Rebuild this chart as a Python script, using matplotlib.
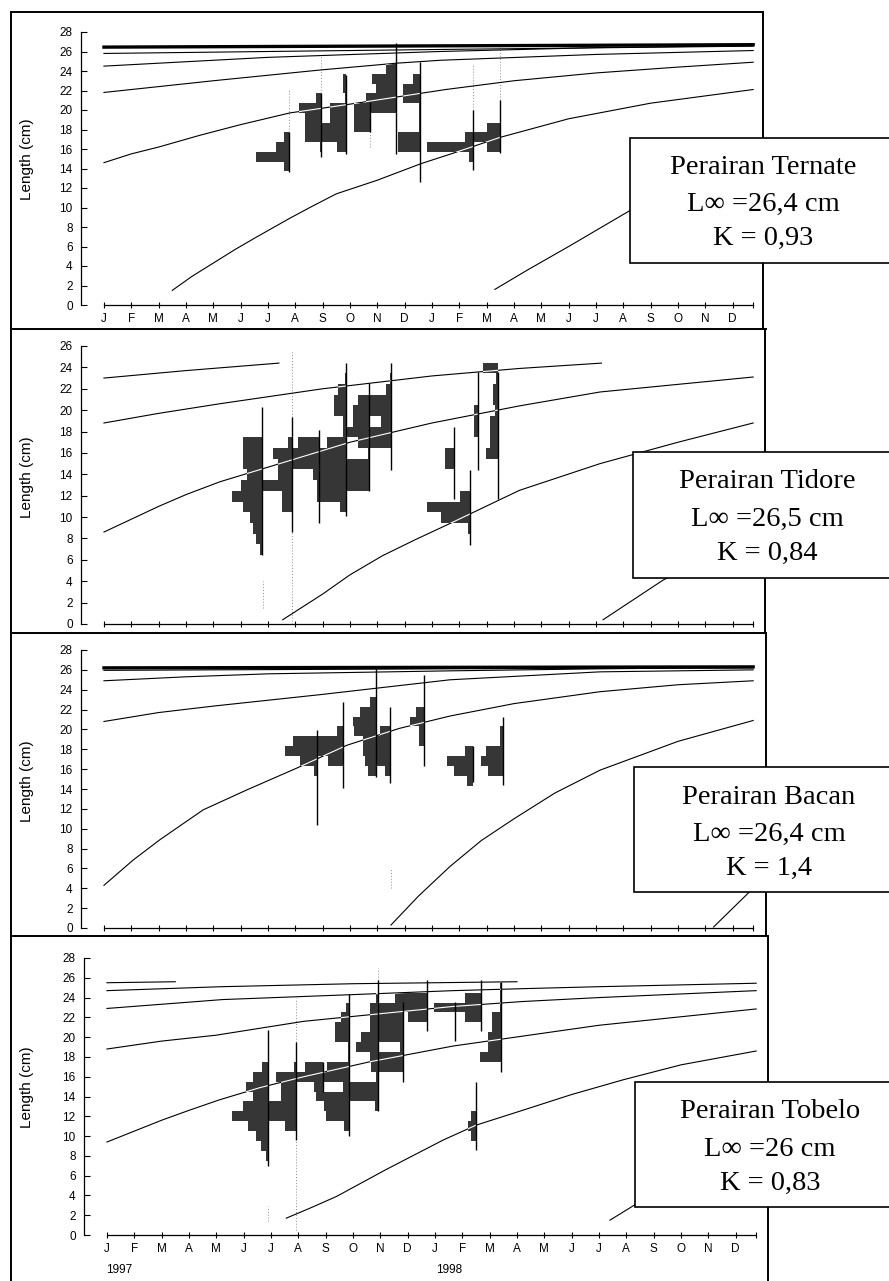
import matplotlib
matplotlib.use('Agg')
import matplotlib.pyplot as plt
from matplotlib.lines import Line2D
from matplotlib.patches import Rectangle, PathPatch
from matplotlib.path import Path

plt.rcParams['font.family'] = ['Liberation Sans', 'DejaVu Sans']

W, H = 889, 1281
MONTHS = ['J', 'F', 'M', 'A', 'M', 'J', 'J', 'A', 'S', 'O', 'N', 'D']
YEARS = ['1997', '1998']
FILL = '#363636'

# x = months since 1 Jan 1997, y = length (cm)
# samples: (date, lowest class, bar widths from bottom up, line low, line high)

# --- Perairan Ternate
TER_TOP = [(0, 26.45), (23.75, 26.7)]
TER_CURVES = [
    [(0, 25.8), (6, 26.0), (12, 26.2), (23.75, 26.55)],
    [(0, 24.5), (6, 25.4), (12.3, 26.0), (18, 26.4), (23.75, 26.6)],
    [(0, 21.8), (4, 23.0), (7.9, 24.1), (10.7, 24.8), (12.3, 25.1), (18, 25.7), (23.75, 26.1)],
    [(0, 14.6), (1, 15.5), (2, 16.2), (3.5, 17.4), (5, 18.5), (6.8, 19.7), (9, 20.6), (12.5, 22.1),
     (15, 23.0), (18, 23.8), (21, 24.4), (23.75, 24.9)],
    [(2.5, 1.5), (3.2, 2.9), (4.0, 4.3), (4.8, 5.7), (5.6, 7.0), (6.8, 8.9), (7.6, 10.1), (8.5, 11.4),
     (10.0, 12.8), (11.6, 14.5), (12.7, 15.5), (14.5, 17.2), (17, 19.1), (20, 20.7), (23.75, 22.1)],
    [(14.3, 1.6), (15.5, 3.6), (17, 6.0), (19.25, 9.7), (23.75, 14.5)],
]
TER_SAMPLES = [
    (6.78, 13.7, [0.2, 1.2, 0.5, 0.18], 13.6, 17.7),
    (7.94, 15.7, [0.05, 0.6, 0.6, 0.6, 0.79, 0.2], 15.2, 21.7),
    (8.85, 15.7, [0.32, 0.91, 0.91, 0.59, 0.59, 0.05, 0.12, 0.12], 15.5, 23.6),
    (9.73, 17.7, [0.6, 0.6, 0.6], 17.7, 20.8),
    (10.7, 19.7, [1.5, 1.1, 0.75, 0.91, 0.39], 15.5, 26.9),
    (11.56, 15.7, [0.79, 0.79, 0.05, 0.05, 0.05, 0.61, 0.61, 0.27], 12.6, 24.9),
    (13.5, 14.7, [0.16, 1.68], 13.85, 20.0),
    (14.5, 15.7, [0.49, 1.28, 0.49], 15.6, 21.0),
]
TER_DOTS = [(6.78, 17.7, 22.2), (7.94, 21.7, 25.5), (9.73, 16.2, 21.4), (13.5, 20.0, 24.7), (14.5, 21.0, 26.5)]

# --- Perairan Tidore
TID_TOP = None
TID_CURVES = [
    [(0, 23.0), (3, 23.7), (6.4, 24.4)],
    [(0, 18.8), (2, 19.7), (4.24, 20.6), (8, 22.0), (12, 23.2), (15.2, 23.9), (18.2, 24.4)],
    [(0, 8.6), (1, 9.8), (2, 11.0), (3, 12.1), (4.24, 13.3), (6.3, 14.9), (9, 17.0), (12, 18.8),
     (15.2, 20.4), (18.15, 21.7), (23.75, 23.1)],
    [(6.54, 0.4), (8, 2.8), (9, 4.6), (10.2, 6.4), (11.4, 7.9), (12.66, 9.4), (15.2, 12.5),
     (18.15, 15.0), (21, 17.0), (23.75, 18.8)],
    [(18.26, 0.4), (20.45, 4.1), (23.75, 8.4)],
]
TID_SAMPLES = [
    (5.77, 6.45, [0.05, 0.2, 0.3, 0.43, 0.67, 1.1, 0.77, 0.55, 0.7, 0.7, 0.7], 6.45, 20.3),
    (6.87, 10.45, [0.37, 0.37, 1.1, 0.49, 0.49, 0.67, 0.12], 8.6, 19.4),
    (7.88, 13.45, [0.1, 1.0, 1.0, 0.77], 9.4, 18.1),
    (8.85, 10.45, [0.2, 1.07, 1.07, 1.22, 0.95, 0.95, 0.7, 0.05, 0.1, 0.43, 0.43, 0.3, 0.05], 10.1, 24.4),
    (9.7, 12.45, [0.9, 0.9, 0.9, 0.05, 0.4, 0.95, 0.58, 0.58, 0.4], 12.4, 22.5),
    (10.5, 16.45, [1.22, 1.22, 0.37, 1.22, 1.22, 0.2, 0.05], 14.4, 24.4),
    (12.8, 14.45, [0.34, 0.34], 11.7, 18.4),
    (13.4, 8.45, [0.1, 1.06, 1.6, 0.39], 7.4, 14.4),
    (13.7, 17.45, [0.15, 0.15, 0.15], 14.4, 23.6),
    (14.4, 15.45, [0.43, 0.28, 0.28, 0.28, 0.1, 0.18, 0.18, 0.05, 0.55], 11.7, 23.6),
]
TID_DOTS = [(6.87, 19.4, 25.5), (6.87, 0.0, 8.6), (5.8, 1.5, 4.0)]

# --- Perairan Bacan
BAC_TOP = [(0, 26.2), (23.75, 26.3)]
BAC_CURVES = [
    [(0, 25.95), (12, 26.1), (23.75, 26.2)],
    [(0, 24.9), (3, 25.3), (6, 25.6), (12.66, 25.9), (18, 26.1), (23.75, 26.25)],
    [(0, 20.8), (2, 21.7), (4, 22.35), (7.9, 23.5), (12.66, 25.0), (18.15, 25.8), (23.75, 26.0)],
    [(0, 4.3), (1.07, 6.85), (2.05, 8.9), (3.63, 11.9), (5.22, 13.9), (7.05, 16.1), (8.88, 18.4),
     (10.8, 20.1), (12.66, 21.35), (15, 22.6), (18.15, 23.8), (21, 24.5), (23.75, 24.9)],
    [(10.5, 0.3), (11.5, 3.2), (12.66, 6.2), (13.8, 8.8), (15, 11.0), (16.5, 13.6), (18.15, 15.9),
     (21, 18.8), (23.75, 20.9)],
    [(22.3, 0.1), (23.75, 4.0)],
]
BAC_SAMPLES = [
    (7.78, 15.3, [0.1, 0.61, 1.16, 0.85], 10.4, 19.9),
    (8.76, 16.3, [0.55, 0.98, 0.98, 0.24], 14.1, 22.8),
    (9.95, 15.3, [0.3, 0.34, 0.34, 0.34, 0.8, 0.83, 0.59, 0.22], 15.2, 26.3),
    (10.46, 15.3, [0.18, 0.9, 0.98, 0.98, 0.37], 14.6, 22.3),
    (11.7, 18.3, [0.17, 0.17, 0.51, 0.27], 16.3, 25.5),
    (13.49, 14.3, [0.22, 0.7, 0.95, 0.28], 14.7, 18.3),
    (14.6, 15.3, [0.55, 0.79, 0.63, 0.12, 0.12], 14.4, 21.3),
]
BAC_DOTS = [(10.5, 4.0, 6.0)]

# --- Perairan Tobelo
TOB_TOP = None
TOB_CURVES = [
    [(0, 25.5), (2.5, 25.6)],
    [(0, 24.7), (4.2, 25.1), (9, 25.4), (15, 25.6)],
    [(0, 22.9), (4.24, 23.8), (9, 24.3), (12.66, 24.7), (15.2, 24.9), (18, 25.1), (23.75, 25.45)],
    [(0, 18.8), (2, 19.6), (4, 20.2), (7.2, 21.6), (12.66, 23.1), (15.2, 23.6), (18, 24.0), (23.75, 24.7)],
    [(0, 9.4), (1, 10.5), (2, 11.6), (3, 12.6), (4.1, 13.65), (5.6, 14.9), (7.2, 16.0), (9.6, 17.5),
     (12.66, 19.1), (15.2, 20.1), (18, 21.2), (23.75, 22.85)],
    [(6.56, 1.7), (7.5, 2.8), (8.4, 3.9), (10.2, 6.6), (12.3, 9.6), (13.5, 11.1), (15.2, 12.6),
     (17, 14.2), (18.9, 15.7), (21, 17.2), (23.75, 18.6)],
    [(18.4, 1.5), (19.4, 3.2), (21, 5.8)],
]
TOB_SAMPLES = [
    (5.89, 7.5, [0.09, 0.24, 0.45, 0.73, 1.3, 0.9, 0.55, 0.79, 0.55, 0.21], 7.0, 20.7),
    (6.93, 10.5, [0.43, 1.04, 1.04, 0.55, 0.55, 0.73, 0.1], 9.6, 19.5),
    (7.9, 14.5, [0.32, 0.95, 0.65], 14.5, 17.5),
    (8.85, 10.5, [0.18, 0.85, 0.91, 1.22, 0.18, 0.95, 0.79, 0.05, 0.05, 0.49, 0.49, 0.3, 0.1], 10.0, 24.4),
    (9.91, 12.5, [0.12, 1.1, 1.28, 0.05, 0.05, 0.05, 0.79, 0.3, 0.3, 0.3, 0.3, 0.05], 12.5, 25.8),
    (10.83, 16.5, [1.16, 1.22, 0.12, 1.52, 1.22, 0.98, 1.22], 15.5, 23.6),
    (11.69, 21.5, [0.67, 0.85, 1.16], 20.6, 25.8),
    (12.72, 22.5, [0.77], 19.6, 23.6),
    (13.7, 21.5, [0.6, 0.98, 0.6], 20.6, 25.8),
    (14.43, 17.5, [0.8, 0.5, 0.5, 0.35, 0.35, 0.05, 0.05, 0.05], 16.5, 25.6),
    (13.5, 9.5, [0.18, 0.3, 0.18], 8.6, 15.5),
]
TOB_DOTS = [(6.93, 19.5, 24.0), (6.93, 0.5, 9.6), (5.89, 1.4, 2.9), (9.91, 25.8, 27.0)]

LABELS = [
    ['Perairan Ternate', 'L\u221e =26,4 cm', 'K = 0,93'],
    ['Perairan Tidore', 'L\u221e =26,5 cm', 'K = 0,84'],
    ['Perairan Bacan', 'L\u221e =26,4 cm', 'K = 1,4'],
    ['Perairan Tobelo', 'L\u221e =26 cm', 'K = 0,83'],
]


def px_rect(l, t, r, b):
    return [l / W, 1 - b / H, (r - l) / W, (b - t) / H]


def fig_line(fig, xs, ys, lw=1.4):
    fig.add_artist(Line2D([x / W for x in xs], [1 - y / H for y in ys],
                          color='black', lw=lw, transform=fig.transFigure))


def draw_panel(fig, box, ymax, top, curves, samples, dots, month_labels):
    ax = fig.add_axes(px_rect(*box))
    ax.set_xlim(-0.84, 24.0)
    ax.set_ylim(0, ymax)
    ax.patch.set_alpha(0)
    ax.spines['top'].set_visible(False)
    ax.spines['right'].set_visible(False)
    ax.spines['left'].set_bounds(0, ymax)
    ax.spines['bottom'].set_bounds(0, 23.75)
    for s in ['left', 'bottom']:
        ax.spines[s].set_linewidth(0.9)
    ax.set_yticks(range(0, ymax + 1, 2))
    ax.tick_params(axis='y', direction='in', length=4, width=0.8, labelsize=8.5, pad=6)
    ax.set_xticks(list(range(24)) + [23.75])
    ax.tick_params(axis='x', direction='inout', length=5, width=0.8, labelsize=8.5, pad=3)
    ax.set_xticklabels(MONTHS * 2 + [''] if month_labels else [])

    # length-frequency bars, drawn to the left of each sampling date
    verts, codes = [], []
    for x, y0, widths, lo, hi in samples:
        ys = [y0 + i for i in range(len(widths))]
        ax.barh(ys, widths, left=[x - w for w in widths], height=1.0, align='edge',
                color=FILL, lw=0, zorder=2)
        for y, w in zip(ys, widths):
            verts += [(x - w, y), (x, y), (x, y + 1), (x - w, y + 1), (x - w, y)]
            codes += [Path.MOVETO, Path.LINETO, Path.LINETO, Path.LINETO, Path.CLOSEPOLY]
        ax.vlines(x, lo, hi, color='black', lw=1.0, zorder=4)
    clip = PathPatch(Path(verts, codes), transform=ax.transData)

    for x, lo, hi in dots:
        ax.vlines(x, lo, hi, color='0.55', lw=0.7, linestyles=(0, (1, 2)), zorder=1)

    if top:
        ax.plot([p[0] for p in top], [p[1] for p in top], color='black', lw=2.4, zorder=1)
    for c in curves:
        xs, ys = [p[0] for p in c], [p[1] for p in c]
        ax.plot(xs, ys, color='black', lw=0.8, zorder=1, solid_joinstyle='round')
        wl, = ax.plot(xs, ys, color='white', lw=0.8, zorder=3)
        wl.set_clip_path(clip)
    return ax


fig = plt.figure(figsize=(W / 100, H / 100), dpi=100)

draw_panel(fig, (81, 32, 760, 305), 28, TER_TOP, TER_CURVES, TER_SAMPLES, TER_DOTS, True)
draw_panel(fig, (81, 346, 760, 624), 26, TID_TOP, TID_CURVES, TID_SAMPLES, TID_DOTS, False)
draw_panel(fig, (81, 650, 760, 928), 28, BAC_TOP, BAC_CURVES, BAC_SAMPLES, BAC_DOTS, False)
draw_panel(fig, (84, 958, 763, 1235), 28, TOB_TOP, TOB_CURVES, TOB_SAMPLES, TOB_DOTS, True)

# y labels
for yc in [159, 477, 781, 1087]:
    fig.text(27 / W, 1 - yc / H, 'Length (cm)', rotation=90, ha='center', va='center', fontsize=11)

# year labels under the last panel
fig.text(119 / W, 1 - 1270 / H, YEARS[0], ha='center', va='center', fontsize=8.5)
fig.text(449 / W, 1 - 1270 / H, YEARS[1], ha='center', va='center', fontsize=8.5)

# panel frames
fig_line(fig, [11, 763], [12, 12])
fig_line(fig, [11, 11], [12, 1281])
fig_line(fig, [763, 763], [12, 329])
fig_line(fig, [765, 765], [329, 633])
fig_line(fig, [766, 766], [633, 936])
fig_line(fig, [768, 768], [936, 1281])
for yy in [329, 633, 936]:
    fig_line(fig, [11, 766], [yy, yy])

# parameter boxes
boxes = [(630, 138, 263, 763, [167, 204, 238]),
         (633, 452, 578, 767, [482, 519, 553]),
         (634, 767, 892, 769, [797, 834, 868]),
         (635, 1082, 1207, 770, [1112, 1150, 1183])]
for (l, t, b, xc, ys), lines in zip(boxes, LABELS):
    fig.add_artist(Rectangle((l / W, 1 - b / H), (905 - l) / W, (b - t) / H,
                             transform=fig.transFigure, facecolor='white',
                             edgecolor='black', lw=1.2, zorder=5))
    for yy, txt in zip(ys, lines):
        fig.text(xc / W, 1 - yy / H, txt, ha='center', va='center', fontsize=20.5,
                 family=['Liberation Serif', 'DejaVu Serif'], zorder=6)

fig.savefig('out.png', dpi=100)
